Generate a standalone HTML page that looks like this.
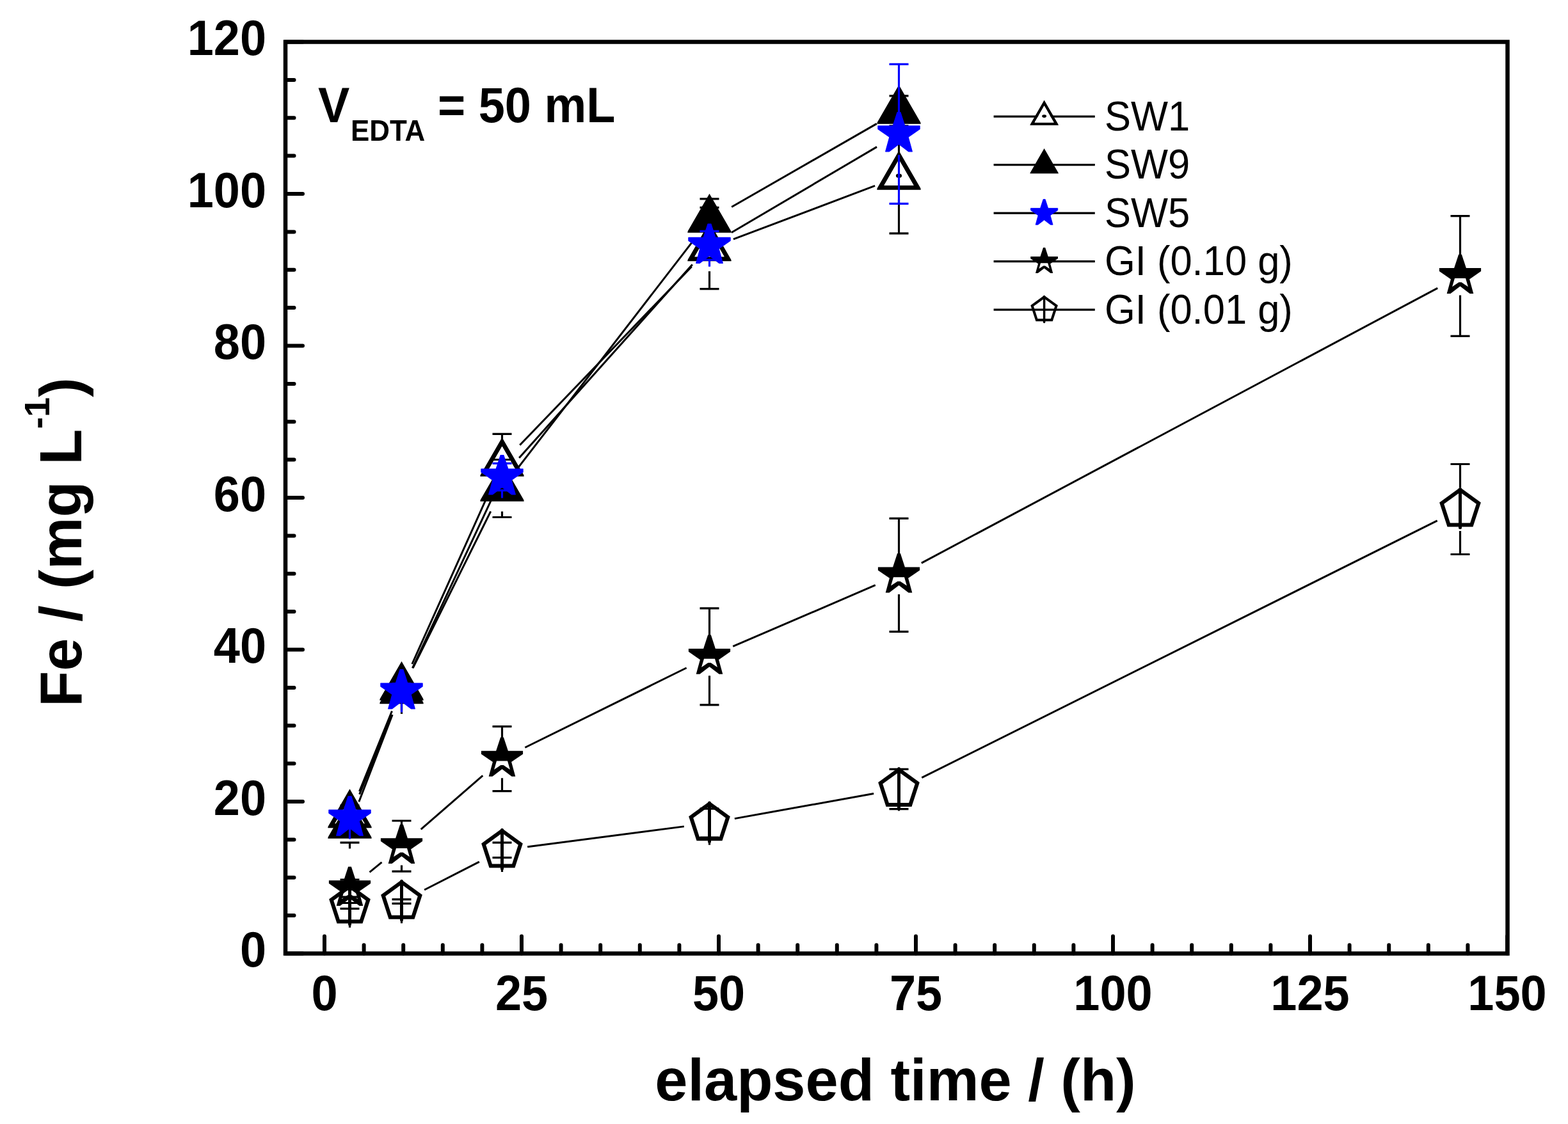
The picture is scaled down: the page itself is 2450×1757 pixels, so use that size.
<!DOCTYPE html>
<html><head><meta charset="utf-8"><title>Fe vs elapsed time</title>
<style>html,body{margin:0;padding:0;background:#fff;overflow:hidden;width:2450px;height:1757px;}svg{display:block;}</style>
</head><body>
<svg width="2450" height="1757" viewBox="0 0 2450 1757">
<rect width="2450" height="1757" fill="#fff"/>
<path d="M561.55 1236.94L612.45 1111.56 M643.87 1038.00L768.13 761.00 M812.24 695.69L1080.76 416.81 M1145.92 373.88L1367.08 290.42" stroke="#000" stroke-width="3.00" fill="none" stroke-linecap="butt"/>
<path d="M546.50 1238.00L546.50 1259.00 M531.50 1259.00L561.50 1259.00 M546.50 1310.00L546.50 1289.00 M531.50 1289.00L561.50 1289.00" stroke="#000" stroke-width="3.20" fill="none" stroke-linecap="butt"/>
<path d="M627.50 1038.50L627.50 1062.50 M612.50 1062.50L642.50 1062.50 M627.50 1110.50L627.50 1086.50 M612.50 1086.50L642.50 1086.50" stroke="#000" stroke-width="3.20" fill="none" stroke-linecap="butt"/>
<path d="M784.50 688.50L784.50 678.30 M769.50 678.30L799.50 678.30 M784.50 760.50L784.50 770.70 M769.50 770.70L799.50 770.70" stroke="#000" stroke-width="3.20" fill="none" stroke-linecap="butt"/>
<path d="M1108.50 352.00L1108.50 324.40 M1093.50 324.40L1123.50 324.40 M1108.50 424.00L1108.50 451.60 M1093.50 451.60L1123.50 451.60" stroke="#000" stroke-width="3.20" fill="none" stroke-linecap="butt"/>
<path d="M1404.50 240.30L1404.50 187.80 M1389.50 187.80L1419.50 187.80 M1404.50 312.30L1404.50 364.80 M1389.50 364.80L1419.50 364.80" stroke="#000" stroke-width="3.20" fill="none" stroke-linecap="butt"/>
<clipPath id="c1"><rect x="512.35" y="1228.30" width="68.30" height="71.05"/></clipPath>
<path d="M546.50 1233.30 L581.75 1294.35 L511.25 1294.35ZM546.50 1247.30 L569.62 1287.35 L523.38 1287.35Z" fill="#000" fill-rule="evenodd" clip-path="url(#c1)"/>
<path d="M546.50 1247.30 L569.62 1287.35 L523.38 1287.35Z" fill="#fff"/>
<ellipse cx="546.50" cy="1272.50" rx="4.60" ry="3.20" fill="#000"/>
<clipPath id="c2"><rect x="593.35" y="1028.80" width="68.30" height="71.05"/></clipPath>
<path d="M627.50 1033.80 L662.75 1094.85 L592.25 1094.85ZM627.50 1047.80 L650.62 1087.85 L604.38 1087.85Z" fill="#000" fill-rule="evenodd" clip-path="url(#c2)"/>
<path d="M627.50 1047.80 L650.62 1087.85 L604.38 1087.85Z" fill="#fff"/>
<ellipse cx="627.50" cy="1073.00" rx="4.60" ry="3.20" fill="#000"/>
<clipPath id="c3"><rect x="750.35" y="678.80" width="68.30" height="71.05"/></clipPath>
<path d="M784.50 683.80 L819.75 744.85 L749.25 744.85ZM784.50 697.80 L807.62 737.85 L761.38 737.85Z" fill="#000" fill-rule="evenodd" clip-path="url(#c3)"/>
<path d="M784.50 697.80 L807.62 737.85 L761.38 737.85Z" fill="#fff"/>
<ellipse cx="784.50" cy="723.00" rx="4.60" ry="3.20" fill="#000"/>
<clipPath id="c4"><rect x="1074.35" y="342.30" width="68.30" height="71.05"/></clipPath>
<path d="M1108.50 347.30 L1143.75 408.35 L1073.25 408.35ZM1108.50 361.30 L1131.62 401.35 L1085.38 401.35Z" fill="#000" fill-rule="evenodd" clip-path="url(#c4)"/>
<path d="M1108.50 361.30 L1131.62 401.35 L1085.38 401.35Z" fill="#fff"/>
<ellipse cx="1108.50" cy="386.50" rx="4.60" ry="3.20" fill="#000"/>
<clipPath id="c5"><rect x="1370.35" y="230.60" width="68.30" height="71.05"/></clipPath>
<path d="M1404.50 235.60 L1439.75 296.65 L1369.25 296.65ZM1404.50 249.60 L1427.62 289.65 L1381.38 289.65Z" fill="#000" fill-rule="evenodd" clip-path="url(#c5)"/>
<path d="M1404.50 249.60 L1427.62 289.65 L1381.38 289.65Z" fill="#fff"/>
<ellipse cx="1404.50" cy="274.80" rx="4.60" ry="3.20" fill="#000"/>
<path d="M560.87 1253.17L613.13 1117.33 M645.28 1044.17L766.72 799.33 M808.93 731.83L1084.07 375.17 M1143.18 323.57L1369.82 193.33" stroke="#000" stroke-width="3.00" fill="none" stroke-linecap="butt"/>
<path d="M546.50 1254.50L546.50 1263.80 M531.50 1263.80L561.50 1263.80 M546.50 1326.50L546.50 1317.20 M531.50 1317.20L561.50 1317.20" stroke="#000" stroke-width="3.20" fill="none" stroke-linecap="butt"/>
<path d="M627.50 1044.00L627.50 1070.00 M612.50 1070.00L642.50 1070.00 M627.50 1116.00L627.50 1090.00 M612.50 1090.00L642.50 1090.00" stroke="#000" stroke-width="3.20" fill="none" stroke-linecap="butt"/>
<path d="M784.50 727.50L784.50 718.50 M769.50 718.50L799.50 718.50 M784.50 799.50L784.50 808.50 M769.50 808.50L799.50 808.50" stroke="#000" stroke-width="3.20" fill="none" stroke-linecap="butt"/>
<path d="M1108.50 307.50L1108.50 310.80 M1093.50 310.80L1123.50 310.80 M1108.50 379.50L1108.50 376.20 M1093.50 376.20L1123.50 376.20" stroke="#000" stroke-width="3.20" fill="none" stroke-linecap="butt"/>
<path d="M1404.50 137.40L1404.50 149.90 M1389.50 149.90L1419.50 149.90 M1404.50 209.40L1404.50 196.90 M1389.50 196.90L1419.50 196.90" stroke="#000" stroke-width="3.20" fill="none" stroke-linecap="butt"/>
<clipPath id="c6"><rect x="512.35" y="1244.80" width="68.30" height="71.05"/></clipPath>
<path d="M546.50 1249.80 L581.75 1310.85 L511.25 1310.85Z" fill="#000" clip-path="url(#c6)"/>
<clipPath id="c7"><rect x="593.35" y="1034.30" width="68.30" height="71.05"/></clipPath>
<path d="M627.50 1039.30 L662.75 1100.35 L592.25 1100.35Z" fill="#000" clip-path="url(#c7)"/>
<clipPath id="c8"><rect x="750.35" y="717.80" width="68.30" height="71.05"/></clipPath>
<path d="M784.50 722.80 L819.75 783.85 L749.25 783.85Z" fill="#000" clip-path="url(#c8)"/>
<clipPath id="c9"><rect x="1074.35" y="297.80" width="68.30" height="71.05"/></clipPath>
<path d="M1108.50 302.80 L1143.75 363.85 L1073.25 363.85Z" fill="#000" clip-path="url(#c9)"/>
<clipPath id="c10"><rect x="1370.35" y="127.70" width="68.30" height="71.05"/></clipPath>
<path d="M1404.50 132.70 L1439.75 193.75 L1369.25 193.75Z" fill="#000" clip-path="url(#c10)"/>
<path d="M561.64 1241.58L612.36 1117.52 M644.47 1044.28L767.53 781.72 M811.19 715.71L1081.81 413.59 M1142.96 363.49L1370.04 229.61" stroke="#000" stroke-width="3.00" fill="none" stroke-linecap="butt"/>
<polygon points="544.10,1244.80 548.90,1244.80 555.90,1266.20 579.10,1266.20 579.10,1271.10 561.10,1283.50 567.30,1306.10 561.60,1306.10 546.50,1294.60 531.40,1306.10 525.70,1306.10 531.90,1283.50 513.90,1271.10 513.90,1266.20 537.10,1266.20 544.10,1244.80" fill="#00f" stroke="#00f" stroke-width="1.20" stroke-linejoin="round"/>
<polygon points="625.10,1046.70 629.90,1046.70 636.90,1068.10 660.10,1068.10 660.10,1073.00 642.10,1085.40 648.30,1108.00 642.60,1108.00 627.50,1096.50 612.40,1108.00 606.70,1108.00 612.90,1085.40 594.90,1073.00 594.90,1068.10 618.10,1068.10 625.10,1046.70" fill="#00f" stroke="#00f" stroke-width="1.20" stroke-linejoin="round"/>
<polygon points="782.10,711.70 786.90,711.70 793.90,733.10 817.10,733.10 817.10,738.00 799.10,750.40 805.30,773.00 799.60,773.00 784.50,761.50 769.40,773.00 763.70,773.00 769.90,750.40 751.90,738.00 751.90,733.10 775.10,733.10 782.10,711.70" fill="#00f" stroke="#00f" stroke-width="1.20" stroke-linejoin="round"/>
<polygon points="1106.10,350.00 1110.90,350.00 1117.90,371.40 1141.10,371.40 1141.10,376.30 1123.10,388.70 1129.30,411.30 1123.60,411.30 1108.50,399.80 1093.40,411.30 1087.70,411.30 1093.90,388.70 1075.90,376.30 1075.90,371.40 1099.10,371.40 1106.10,350.00" fill="#00f" stroke="#00f" stroke-width="1.20" stroke-linejoin="round"/>
<polygon points="1402.10,175.50 1406.90,175.50 1413.90,196.90 1437.10,196.90 1437.10,201.80 1419.10,214.20 1425.30,236.80 1419.60,236.80 1404.50,225.30 1389.40,236.80 1383.70,236.80 1389.90,214.20 1371.90,201.80 1371.90,196.90 1395.10,196.90 1402.10,175.50" fill="#00f" stroke="#00f" stroke-width="1.20" stroke-linejoin="round"/>
<path d="M546.50 1245.60L546.50 1268.60 M531.50 1268.60L561.50 1268.60 M546.50 1311.60L546.50 1288.60 M531.50 1288.60L561.50 1288.60" stroke="#00f" stroke-width="3.20" fill="none" stroke-linecap="butt"/>
<path d="M627.50 1047.50L627.50 1068.50 M612.50 1068.50L642.50 1068.50 M627.50 1113.50L627.50 1092.50 M612.50 1092.50L642.50 1092.50" stroke="#00f" stroke-width="3.20" fill="none" stroke-linecap="butt"/>
<path d="M784.50 712.50L784.50 724.30 M769.50 724.30L799.50 724.30 M784.50 778.50L784.50 766.70 M769.50 766.70L799.50 766.70" stroke="#00f" stroke-width="3.20" fill="none" stroke-linecap="butt"/>
<path d="M1108.50 350.80L1108.50 361.40 M1093.50 361.40L1123.50 361.40 M1108.50 416.80L1108.50 406.20 M1093.50 406.20L1123.50 406.20" stroke="#00f" stroke-width="3.20" fill="none" stroke-linecap="butt"/>
<path d="M1404.50 176.30L1404.50 100.30 M1389.50 100.30L1419.50 100.30 M1404.50 242.30L1404.50 318.30 M1389.50 318.30L1419.50 318.30" stroke="#00f" stroke-width="3.20" fill="none" stroke-linecap="butt"/>
<path d="M577.51 1363.33L596.49 1347.87 M657.70 1296.37L754.30 1212.43 M820.37 1168.50L1072.63 1044.00 M1145.24 1010.49L1367.76 914.71 M1439.80 880.09L2246.20 450.31" stroke="#000" stroke-width="3.00" fill="none" stroke-linecap="butt"/>
<path d="M546.50 1358.60L546.50 1375.00 M531.50 1375.00L561.50 1375.00 M546.50 1418.60L546.50 1402.20 M531.50 1402.20L561.50 1402.20" stroke="#000" stroke-width="3.20" fill="none" stroke-linecap="butt"/>
<path d="M627.50 1292.60L627.50 1283.00 M612.50 1283.00L642.50 1283.00 M627.50 1352.60L627.50 1362.20 M612.50 1362.20L642.50 1362.20" stroke="#000" stroke-width="3.20" fill="none" stroke-linecap="butt"/>
<path d="M784.50 1156.20L784.50 1135.70 M769.50 1135.70L799.50 1135.70 M784.50 1216.20L784.50 1236.70 M769.50 1236.70L799.50 1236.70" stroke="#000" stroke-width="3.20" fill="none" stroke-linecap="butt"/>
<path d="M1108.50 996.30L1108.50 950.80 M1093.50 950.80L1123.50 950.80 M1108.50 1056.30L1108.50 1101.80 M1093.50 1101.80L1123.50 1101.80" stroke="#000" stroke-width="3.20" fill="none" stroke-linecap="butt"/>
<path d="M1404.50 868.90L1404.50 810.40 M1389.50 810.40L1419.50 810.40 M1404.50 928.90L1404.50 987.40 M1389.50 987.40L1419.50 987.40" stroke="#000" stroke-width="3.20" fill="none" stroke-linecap="butt"/>
<path d="M2281.50 401.50L2281.50 337.70 M2266.50 337.70L2296.50 337.70 M2281.50 461.50L2281.50 525.30 M2266.50 525.30L2296.50 525.30" stroke="#000" stroke-width="3.20" fill="none" stroke-linecap="butt"/>
<path d="M544.10 1354.80 L548.90 1354.80 L555.90 1376.20 L579.10 1376.20 L579.10 1381.10 L561.10 1393.50 L567.30 1416.10 L561.60 1416.10 L546.50 1404.60 L531.40 1416.10 L525.70 1416.10 L531.90 1393.50 L513.90 1381.10 L513.90 1376.20 L537.10 1376.20 L544.10 1354.80ZM538.00 1392.00 L555.00 1392.00 L558.90 1405.30 L548.60 1398.40 L544.40 1398.40 L534.10 1405.30Z" fill="#000" fill-rule="evenodd"/>
<path d="M625.10 1288.80 L629.90 1288.80 L636.90 1310.20 L660.10 1310.20 L660.10 1315.10 L642.10 1327.50 L648.30 1350.10 L642.60 1350.10 L627.50 1338.60 L612.40 1350.10 L606.70 1350.10 L612.90 1327.50 L594.90 1315.10 L594.90 1310.20 L618.10 1310.20 L625.10 1288.80ZM619.00 1326.00 L636.00 1326.00 L639.90 1339.30 L629.60 1332.40 L625.40 1332.40 L615.10 1339.30Z" fill="#000" fill-rule="evenodd"/>
<path d="M782.10 1152.40 L786.90 1152.40 L793.90 1173.80 L817.10 1173.80 L817.10 1178.70 L799.10 1191.10 L805.30 1213.70 L799.60 1213.70 L784.50 1202.20 L769.40 1213.70 L763.70 1213.70 L769.90 1191.10 L751.90 1178.70 L751.90 1173.80 L775.10 1173.80 L782.10 1152.40ZM776.00 1189.60 L793.00 1189.60 L796.90 1202.90 L786.60 1196.00 L782.40 1196.00 L772.10 1202.90Z" fill="#000" fill-rule="evenodd"/>
<path d="M1106.10 992.50 L1110.90 992.50 L1117.90 1013.90 L1141.10 1013.90 L1141.10 1018.80 L1123.10 1031.20 L1129.30 1053.80 L1123.60 1053.80 L1108.50 1042.30 L1093.40 1053.80 L1087.70 1053.80 L1093.90 1031.20 L1075.90 1018.80 L1075.90 1013.90 L1099.10 1013.90 L1106.10 992.50ZM1100.00 1029.70 L1117.00 1029.70 L1120.90 1043.00 L1110.60 1036.10 L1106.40 1036.10 L1096.10 1043.00Z" fill="#000" fill-rule="evenodd"/>
<path d="M1402.10 865.10 L1406.90 865.10 L1413.90 886.50 L1437.10 886.50 L1437.10 891.40 L1419.10 903.80 L1425.30 926.40 L1419.60 926.40 L1404.50 914.90 L1389.40 926.40 L1383.70 926.40 L1389.90 903.80 L1371.90 891.40 L1371.90 886.50 L1395.10 886.50 L1402.10 865.10ZM1396.00 902.30 L1413.00 902.30 L1416.90 915.60 L1406.60 908.70 L1402.40 908.70 L1392.10 915.60Z" fill="#000" fill-rule="evenodd"/>
<path d="M2279.10 397.70 L2283.90 397.70 L2290.90 419.10 L2314.10 419.10 L2314.10 424.00 L2296.10 436.40 L2302.30 459.00 L2296.60 459.00 L2281.50 447.50 L2266.40 459.00 L2260.70 459.00 L2266.90 436.40 L2248.90 424.00 L2248.90 419.10 L2272.10 419.10 L2279.10 397.70ZM2273.00 434.90 L2290.00 434.90 L2293.90 448.20 L2283.60 441.30 L2279.40 441.30 L2269.10 448.20Z" fill="#000" fill-rule="evenodd"/>
<path d="M663.11 1390.99L748.89 1347.11 M824.16 1323.73L1068.84 1291.87 M1147.87 1279.62L1365.13 1240.58 M1440.29 1215.64L2245.71 813.86" stroke="#000" stroke-width="3.00" fill="none" stroke-linecap="butt"/>
<path d="M546.50 1381.90L546.50 1411.50 M531.50 1411.50L561.50 1411.50 M546.50 1449.90L546.50 1420.30 M531.50 1420.30L561.50 1420.30" stroke="#000" stroke-width="3.20" fill="none" stroke-linecap="butt"/>
<path d="M627.50 1375.20L627.50 1405.95 M612.50 1405.95L642.50 1405.95 M627.50 1443.20L627.50 1412.45 M612.50 1412.45L642.50 1412.45" stroke="#000" stroke-width="3.20" fill="none" stroke-linecap="butt"/>
<path d="M784.50 1294.90L784.50 1317.20 M769.50 1317.20L799.50 1317.20 M784.50 1362.90L784.50 1340.60 M769.50 1340.60L799.50 1340.60" stroke="#000" stroke-width="3.20" fill="none" stroke-linecap="butt"/>
<path d="M1108.50 1252.70L1108.50 1264.20 M1093.50 1264.20L1123.50 1264.20 M1108.50 1320.70L1108.50 1309.20 M1093.50 1309.20L1123.50 1309.20" stroke="#000" stroke-width="3.20" fill="none" stroke-linecap="butt"/>
<path d="M1404.50 1199.50L1404.50 1202.30 M1389.50 1202.30L1419.50 1202.30 M1404.50 1267.50L1404.50 1264.70 M1389.50 1264.70L1419.50 1264.70" stroke="#000" stroke-width="3.20" fill="none" stroke-linecap="butt"/>
<path d="M2281.50 762.00L2281.50 725.50 M2266.50 725.50L2296.50 725.50 M2281.50 830.00L2281.50 866.50 M2266.50 866.50L2296.50 866.50" stroke="#000" stroke-width="3.20" fill="none" stroke-linecap="butt"/>
<path d="M546.50 1381.90 L578.84 1405.39 L566.48 1443.41 L526.52 1443.41 L514.16 1405.39ZM546.50 1389.32 L571.78 1407.69 L562.13 1437.41 L530.87 1437.41 L521.22 1407.69Z" fill="#000" fill-rule="evenodd"/>
<line x1="546.50" y1="1384.40" x2="546.50" y2="1444.71" stroke="#000" stroke-width="5.00" stroke-linecap="round"/>
<path d="M627.50 1375.20 L659.84 1398.69 L647.48 1436.71 L607.52 1436.71 L595.16 1398.69ZM627.50 1382.62 L652.78 1400.99 L643.13 1430.71 L611.87 1430.71 L602.22 1400.99Z" fill="#000" fill-rule="evenodd"/>
<line x1="627.50" y1="1377.70" x2="627.50" y2="1438.01" stroke="#000" stroke-width="5.00" stroke-linecap="round"/>
<path d="M784.50 1294.90 L816.84 1318.39 L804.48 1356.41 L764.52 1356.41 L752.16 1318.39ZM784.50 1302.32 L809.78 1320.69 L800.13 1350.41 L768.87 1350.41 L759.22 1320.69Z" fill="#000" fill-rule="evenodd"/>
<line x1="784.50" y1="1297.40" x2="784.50" y2="1357.71" stroke="#000" stroke-width="5.00" stroke-linecap="round"/>
<path d="M1108.50 1252.70 L1140.84 1276.19 L1128.48 1314.21 L1088.52 1314.21 L1076.16 1276.19ZM1108.50 1260.12 L1133.78 1278.49 L1124.13 1308.21 L1092.87 1308.21 L1083.22 1278.49Z" fill="#000" fill-rule="evenodd"/>
<line x1="1108.50" y1="1255.20" x2="1108.50" y2="1315.51" stroke="#000" stroke-width="5.00" stroke-linecap="round"/>
<path d="M1404.50 1199.50 L1436.84 1222.99 L1424.48 1261.01 L1384.52 1261.01 L1372.16 1222.99ZM1404.50 1206.92 L1429.78 1225.29 L1420.13 1255.01 L1388.87 1255.01 L1379.22 1225.29Z" fill="#000" fill-rule="evenodd"/>
<line x1="1404.50" y1="1202.00" x2="1404.50" y2="1262.31" stroke="#000" stroke-width="5.00" stroke-linecap="round"/>
<path d="M2281.50 762.00 L2313.84 785.49 L2301.48 823.51 L2261.52 823.51 L2249.16 785.49ZM2281.50 769.42 L2306.78 787.79 L2297.13 817.51 L2265.87 817.51 L2256.22 787.79Z" fill="#000" fill-rule="evenodd"/>
<line x1="2281.50" y1="764.50" x2="2281.50" y2="824.81" stroke="#000" stroke-width="5.00" stroke-linecap="round"/>
<path d="M507.00 1490.50L507.00 1463.50 M568.60 1490.50L568.60 1477.30 M630.20 1490.50L630.20 1477.30 M691.80 1490.50L691.80 1477.30 M753.40 1490.50L753.40 1477.30 M815.00 1490.50L815.00 1463.50 M876.60 1490.50L876.60 1477.30 M938.20 1490.50L938.20 1477.30 M999.80 1490.50L999.80 1477.30 M1061.40 1490.50L1061.40 1477.30 M1123.00 1490.50L1123.00 1463.50 M1184.60 1490.50L1184.60 1477.30 M1246.20 1490.50L1246.20 1477.30 M1307.80 1490.50L1307.80 1477.30 M1369.40 1490.50L1369.40 1477.30 M1431.00 1490.50L1431.00 1463.50 M1492.60 1490.50L1492.60 1477.30 M1554.20 1490.50L1554.20 1477.30 M1615.80 1490.50L1615.80 1477.30 M1677.40 1490.50L1677.40 1477.30 M1739.00 1490.50L1739.00 1463.50 M1800.60 1490.50L1800.60 1477.30 M1862.20 1490.50L1862.20 1477.30 M1923.80 1490.50L1923.80 1477.30 M1985.40 1490.50L1985.40 1477.30 M2047.00 1490.50L2047.00 1463.50 M2108.60 1490.50L2108.60 1477.30 M2170.20 1490.50L2170.20 1477.30 M2231.80 1490.50L2231.80 1477.30 M2293.40 1490.50L2293.40 1477.30 M2355.00 1490.50L2355.00 1463.50 M446.00 1490.50L473.00 1490.50 M446.00 1431.12L459.50 1431.12 M446.00 1371.75L459.50 1371.75 M446.00 1312.38L459.50 1312.38 M446.00 1253.00L473.00 1253.00 M446.00 1193.62L459.50 1193.62 M446.00 1134.25L459.50 1134.25 M446.00 1074.88L459.50 1074.88 M446.00 1015.50L473.00 1015.50 M446.00 956.12L459.50 956.12 M446.00 896.75L459.50 896.75 M446.00 837.38L459.50 837.38 M446.00 778.00L473.00 778.00 M446.00 718.62L459.50 718.62 M446.00 659.25L459.50 659.25 M446.00 599.88L459.50 599.88 M446.00 540.50L473.00 540.50 M446.00 481.12L459.50 481.12 M446.00 421.75L459.50 421.75 M446.00 362.38L459.50 362.38 M446.00 303.00L473.00 303.00 M446.00 243.62L459.50 243.62 M446.00 184.25L459.50 184.25 M446.00 124.88L459.50 124.88 M446.00 65.50L473.00 65.50" stroke="#000" stroke-width="6" fill="none" stroke-linecap="round"/>
<rect x="446.00" y="65.50" width="1909.50" height="1425.00" fill="none" stroke="#000" stroke-width="6.50"/>
<text transform="translate(416 1511.20) scale(0.96 1)" font-family="Liberation Sans, Arial, sans-serif" font-weight="bold" font-size="77" text-anchor="end">0</text>
<text transform="translate(416 1273.70) scale(0.96 1)" font-family="Liberation Sans, Arial, sans-serif" font-weight="bold" font-size="77" text-anchor="end">20</text>
<text transform="translate(416 1036.20) scale(0.96 1)" font-family="Liberation Sans, Arial, sans-serif" font-weight="bold" font-size="77" text-anchor="end">40</text>
<text transform="translate(416 798.70) scale(0.96 1)" font-family="Liberation Sans, Arial, sans-serif" font-weight="bold" font-size="77" text-anchor="end">60</text>
<text transform="translate(416 561.20) scale(0.96 1)" font-family="Liberation Sans, Arial, sans-serif" font-weight="bold" font-size="77" text-anchor="end">80</text>
<text transform="translate(416 323.70) scale(0.96 1)" font-family="Liberation Sans, Arial, sans-serif" font-weight="bold" font-size="77" text-anchor="end">100</text>
<text transform="translate(416 86.20) scale(0.96 1)" font-family="Liberation Sans, Arial, sans-serif" font-weight="bold" font-size="77" text-anchor="end">120</text>
<text transform="translate(507.00 1578.8) scale(0.96 1)" font-family="Liberation Sans, Arial, sans-serif" font-weight="bold" font-size="77" text-anchor="middle">0</text>
<text transform="translate(815.00 1578.8) scale(0.96 1)" font-family="Liberation Sans, Arial, sans-serif" font-weight="bold" font-size="77" text-anchor="middle">25</text>
<text transform="translate(1123.00 1578.8) scale(0.96 1)" font-family="Liberation Sans, Arial, sans-serif" font-weight="bold" font-size="77" text-anchor="middle">50</text>
<text transform="translate(1431.00 1578.8) scale(0.96 1)" font-family="Liberation Sans, Arial, sans-serif" font-weight="bold" font-size="77" text-anchor="middle">75</text>
<text transform="translate(1739.00 1578.8) scale(0.96 1)" font-family="Liberation Sans, Arial, sans-serif" font-weight="bold" font-size="77" text-anchor="middle">100</text>
<text transform="translate(2047.00 1578.8) scale(0.96 1)" font-family="Liberation Sans, Arial, sans-serif" font-weight="bold" font-size="77" text-anchor="middle">125</text>
<text transform="translate(2355.00 1578.8) scale(0.96 1)" font-family="Liberation Sans, Arial, sans-serif" font-weight="bold" font-size="77" text-anchor="middle">150</text>
<text x="1399" y="1719.7" font-family="Liberation Sans, Arial, sans-serif" font-weight="bold" font-size="92" text-anchor="middle">elapsed time / (h)</text>
<text transform="translate(127 1105) rotate(-90)" font-family="Liberation Sans, Arial, sans-serif" font-weight="bold" font-size="92">Fe / (mg L<tspan font-size="56" dy="-50">-1</tspan><tspan dy="50">)</tspan></text>
<text transform="translate(497 191) scale(0.96 1)" font-family="Liberation Sans, Arial, sans-serif" font-weight="bold" font-size="77">V</text>
<text transform="translate(548 219.6) scale(0.955 1)" font-family="Liberation Sans, Arial, sans-serif" font-weight="bold" font-size="46">EDTA</text>
<text transform="translate(684 191) scale(0.96 1)" font-family="Liberation Sans, Arial, sans-serif" font-weight="bold" font-size="77">= 50 mL</text>
<line x1="1552.60" y1="182.20" x2="1710.80" y2="182.20" stroke="#000" stroke-width="3.2"/>
<clipPath id="c11"><rect x="1609.35" y="151.50" width="44.50" height="49.30"/></clipPath>
<path d="M1631.60 156.50 L1654.29 195.80 L1608.91 195.80ZM1631.60 165.30 L1646.67 191.40 L1616.53 191.40Z" fill="#000" fill-rule="evenodd" clip-path="url(#c11)"/>
<path d="M1631.60 165.30 L1646.67 191.40 L1616.53 191.40Z" fill="#fff"/>
<ellipse cx="1631.60" cy="181.57" rx="3.45" ry="2.40" fill="#000"/>
<text transform="translate(1726 203.90) scale(0.953 1)" font-family="Liberation Sans, Arial, sans-serif" font-size="64.5">SW1</text>
<line x1="1552.60" y1="257.70" x2="1710.80" y2="257.70" stroke="#000" stroke-width="3.2"/>
<clipPath id="c12"><rect x="1609.35" y="227.00" width="44.50" height="49.30"/></clipPath>
<path d="M1631.60 232.00 L1654.29 271.30 L1608.91 271.30Z" fill="#000" clip-path="url(#c12)"/>
<text transform="translate(1726 279.40) scale(0.953 1)" font-family="Liberation Sans, Arial, sans-serif" font-size="64.5">SW9</text>
<line x1="1552.60" y1="333.20" x2="1710.80" y2="333.20" stroke="#000" stroke-width="3.2"/>
<polygon points="1630.04,311.60 1633.16,311.60 1637.69,325.46 1652.72,325.46 1652.72,328.64 1641.06,336.68 1645.08,351.32 1641.38,351.32 1631.60,343.87 1621.82,351.32 1618.12,351.32 1622.14,336.68 1610.48,328.64 1610.48,325.46 1625.51,325.46 1630.04,311.60" fill="#00f" stroke="#00f" stroke-width="0.80" stroke-linejoin="round"/>
<text transform="translate(1726 354.90) scale(0.953 1)" font-family="Liberation Sans, Arial, sans-serif" font-size="64.5">SW5</text>
<line x1="1552.60" y1="408.70" x2="1710.80" y2="408.70" stroke="#000" stroke-width="3.2"/>
<path d="M1630.03 386.96 L1633.17 386.96 L1637.76 400.98 L1652.95 400.98 L1652.95 404.19 L1641.16 412.31 L1645.22 427.11 L1641.49 427.11 L1631.60 419.58 L1621.71 427.11 L1617.98 427.11 L1622.04 412.31 L1610.25 404.19 L1610.25 400.98 L1625.44 400.98 L1630.03 386.96ZM1626.03 411.33 L1637.17 411.33 L1639.72 420.04 L1632.98 415.52 L1630.22 415.52 L1623.48 420.04Z" fill="#000" fill-rule="evenodd"/>
<text transform="translate(1726 430.40) scale(0.953 1)" font-family="Liberation Sans, Arial, sans-serif" font-size="64.5">GI (0.10 g)</text>
<line x1="1552.60" y1="484.20" x2="1710.80" y2="484.20" stroke="#000" stroke-width="3.2"/>
<path d="M1631.60 461.80 L1652.90 477.28 L1644.77 502.32 L1618.43 502.32 L1610.30 477.28ZM1631.60 466.74 L1648.20 478.81 L1641.86 498.32 L1621.34 498.32 L1615.00 478.81Z" fill="#000" fill-rule="evenodd"/>
<line x1="1631.60" y1="463.55" x2="1631.60" y2="503.57" stroke="#000" stroke-width="3.50" stroke-linecap="round"/>
<text transform="translate(1726 505.90) scale(0.953 1)" font-family="Liberation Sans, Arial, sans-serif" font-size="64.5">GI (0.01 g)</text>
</svg>
</body></html>
